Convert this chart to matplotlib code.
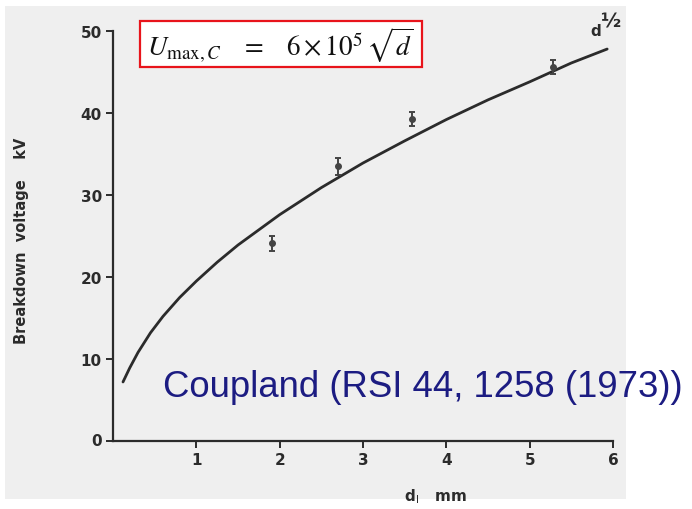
import matplotlib
matplotlib.use('Agg')
import matplotlib.pyplot as plt
from matplotlib.patches import Rectangle

# gap spacing (mm) vs. breakdown voltage (kV), measured points with error bars
gap_mm = [1.91, 2.70, 3.59, 5.28]
volt_kv = [24.1, 33.5, 39.3, 45.6]
volt_err = [0.9, 1.0, 0.85, 0.9]

# fitted d^1/2 curve, read along its length
fit_d = [0.12, 0.2, 0.3, 0.45, 0.6, 0.8, 1.0, 1.25, 1.5, 2.0, 2.5, 3.0,
         3.5, 4.0, 4.5, 5.0, 5.5, 5.93]
fit_v = [7.2, 8.9, 10.8, 13.2, 15.2, 17.5, 19.5, 21.8, 23.9, 27.6, 30.9, 33.9,
         36.6, 39.2, 41.6, 43.8, 46.1, 47.8]

xticks = [1, 2, 3, 4, 5, 6]
yticks = [0, 10, 20, 30, 40, 50]

ink = '#2b2b2b'
W, H = 692, 510
fig = plt.figure(figsize=(W / 100, H / 100), dpi=100)
fig.patch.set_facecolor('white')

# scanned page background
fig.patches.append(Rectangle((5 / W, 1 - 500 / H), 621 / W, 493 / H,
                             transform=fig.transFigure, facecolor='#efefef',
                             edgecolor='none', zorder=-5))

ax = fig.add_axes([113 / W, 1 - 442 / H, 500 / W, 410 / H])
ax.set_facecolor('none')
ax.set_zorder(1)
ax.set_xlim(0, 6)
ax.set_ylim(0, 50)
for s in ('top', 'right'):
    ax.spines[s].set_visible(False)
for s in ('left', 'bottom'):
    ax.spines[s].set_color(ink)
    ax.spines[s].set_linewidth(1.6)

ax.plot(fit_d, fit_v, color=ink, lw=2.0, solid_capstyle='round')
ax.errorbar(gap_mm, volt_kv, yerr=volt_err, fmt='o', ms=4, color='#444444',
            ecolor='#444444', elinewidth=1.4, capsize=2.5, capthick=1.4)

ax.set_xticks(xticks)
ax.set_yticks(yticks)
ax.tick_params(direction='out', length=5, width=1.4, color=ink, pad=3,
               labelsize=11, labelcolor=ink)
ax.set_xticklabels([str(t) for t in xticks], fontweight='bold')
ax.set_yticklabels(['', '10', '20', '30', '40', '50'], fontweight='bold')
# the origin label sits level with the x axis
ax.text(-0.13, 0, '0', ha='right', va='center', fontsize=11,
        fontweight='bold', color=ink)

fig.text(22 / W, 1 - 241 / H, 'Breakdown  voltage    kV', rotation=90,
         ha='center', va='center', fontsize=10.5, fontweight='bold', color=ink)
fig.text(404 / W, 1 - 497 / H, r'd$_{\mathsf{l}}$   mm', ha='left',
         va='center', fontsize=11, fontweight='bold', color=ink)
fig.text(590 / W, 1 - 32 / H, 'd', ha='left', va='center', fontsize=11,
         fontweight='bold', color=ink)
fig.text(600 / W, 1 - 22 / H, '½', ha='left', va='center', fontsize=14,
         fontweight='bold', color=ink)

# formula box
fig.patches.append(Rectangle((140 / W, 1 - 68 / H), 282 / W, 46 / H,
                             transform=fig.transFigure, facecolor='white',
                             edgecolor='#e8141b', lw=1.6, zorder=3))
fig.text(280 / W, 1 - 45 / H,
         r'$U_{\max,C}\ \ \ =\ \ \ 6\times10^5\,\sqrt{d}$',
         ha='center', va='center', fontsize=19.5, color='#111111', zorder=4,
         math_fontfamily='stix')

fig.text(163 / W, 1 - 388 / H, 'Coupland (RSI 44, 1258 (1973))',
         ha='left', va='center', fontsize=26.3, color='#1c1c82',
         family='Liberation Sans', zorder=5)

fig.savefig('out.png', dpi=100)
